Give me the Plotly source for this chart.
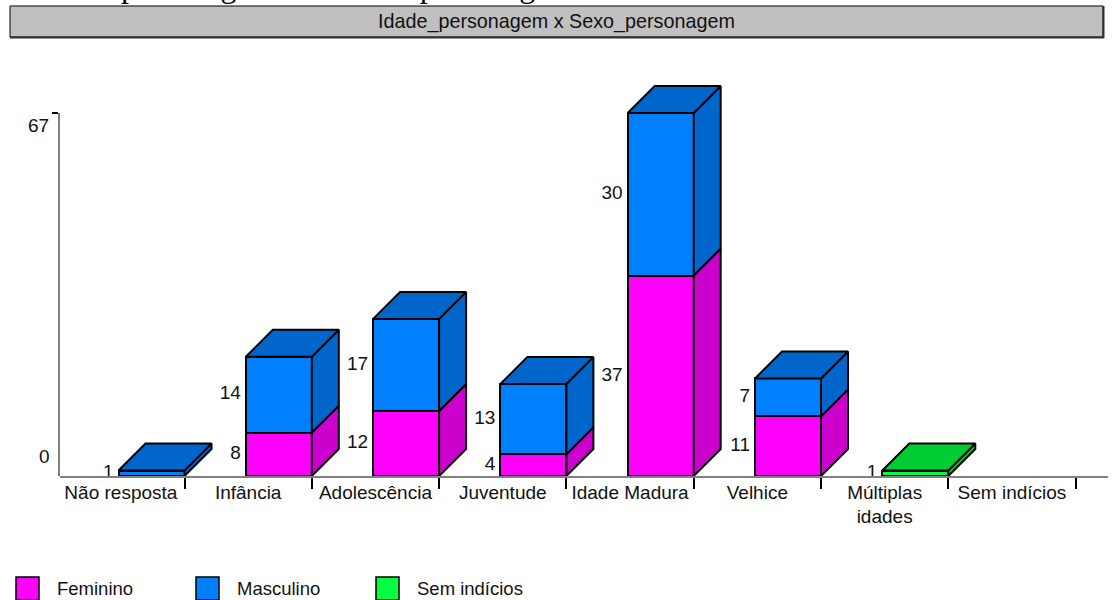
import plotly.graph_objects as go

categories = ["Não resposta", "Infância", "Adolescência", "Juventude", "Idade Madura",
              "Velhice", "Múltiplas<br>idades", "Sem indícios"]
series_names = ["Feminino", "Masculino", "Sem indícios"]
feminino = [0, 8, 12, 4, 37, 11, 0, 0]
masculino = [1, 14, 17, 13, 30, 7, 0, 0]
sem_indicios = [0, 0, 0, 0, 0, 0, 1, 0]
y_ticks = [0, 67]
chart_title = "Idade_personagem x Sexo_personagem"
cut_text = "Idade do personagem x Sexo do personagem"

front = ["#ff00ff", "#0080ff", "#00ff40"]
shade = ["#cc00cc", "#0066cc", "#00cc33"]
all_series = [feminino, masculino, sem_indicios]

W, H = 1112, 600
PX_PER_UNIT = 5.418
X0, X1, Y0 = 59.5, 1108.0, 476.0
PLOT_TOP = 80.0
SLOT = 127.3
BAR_W = 66 / SLOT
DX = 27 / SLOT
DY = 27 / PX_PER_UNIT
LABEL_GAP = 5 / SLOT
FONT = "Liberation Sans"
FS = 18
EDGE = dict(color="black", width=2)

xr0 = 0.5 - (184.5 - X0) / SLOT
xr1 = 0.5 + (X1 - 184.5) / SLOT

fig = go.Figure()

# front faces
for name, vals, col in zip(series_names, all_series, front):
    fig.add_trace(go.Bar(x=list(range(len(categories))), y=[v or None for v in vals], name=name,
                         width=BAR_W, offset=0.5 - BAR_W, marker=dict(color=col, line=EDGE),
                         showlegend=False, hoverinfo="skip"))

# side and top faces, label positions: derived from the stacked values
lab_x, lab_y, lab_t = [], [], []
side = [([], []) for _ in all_series]
top = [([], []) for _ in all_series]
for i in range(len(categories)):
    base = 0
    last = None
    for s, vals in enumerate(all_series):
        v = vals[i]
        if not v:
            continue
        xl, xr = i + 0.5 - BAR_W, i + 0.5
        side[s][0].extend([xr, xr + DX, xr + DX, xr, xr, None])
        side[s][1].extend([base, base + DY, base + v + DY, base + v, base, None])
        lab_x.append(xl - LABEL_GAP)
        lab_y.append(base + v / 2)
        lab_t.append(str(v))
        base += v
        last = s
    if last is not None:
        xl, xr = i + 0.5 - BAR_W, i + 0.5
        top[last][0].extend([xl, xl + DX, xr + DX, xr, xl, None])
        top[last][1].extend([base, base + DY, base + DY, base, base, None])

for s in range(len(all_series)):
    for poly in (side[s], top[s]):
        if poly[0]:
            fig.add_trace(go.Scatter(x=poly[0], y=poly[1], mode="lines", fill="toself",
                                     fillcolor=shade[s], line=EDGE, showlegend=False,
                                     hoverinfo="skip"))

fig.add_trace(go.Scatter(x=lab_x, y=lab_y, text=lab_t, mode="text", textposition="middle left",
                         textfont=dict(family=FONT, size=19, color="#111"), cliponaxis=False,
                         showlegend=False, hoverinfo="skip"))

# carrier for the visible value axis
fig.add_trace(go.Scatter(x=[0, 0], y=y_ticks, yaxis="y2", mode="lines",
                         line=dict(color="rgba(0,0,0,0)"), showlegend=False, hoverinfo="skip"))

shapes = [
    dict(type="rect", xref="paper", yref="paper", x0=10 / W, x1=1103 / W, y0=1 - 37 / H, y1=1 - 6 / H,
         fillcolor="#c0c0c0", line=dict(color="black", width=1)),
    dict(type="line", xref="paper", yref="paper", x0=10 / W, x1=1104 / W, y0=1 - 37.5 / H, y1=1 - 37.5 / H,
         line=dict(color="#303030", width=2)),
    dict(type="line", xref="paper", yref="paper", x0=1103.5 / W, x1=1103.5 / W, y0=1 - 6 / H, y1=1 - 38 / H,
         line=dict(color="#303030", width=2)),
]
annotations = [
    dict(text=chart_title, xref="paper", yref="paper", x=556.5 / W, y=1 - 21.5 / H, showarrow=False,
         font=dict(family=FONT, size=19.75, color="#111"), xanchor="center", yanchor="middle"),
    dict(text=cut_text, xref="paper", yref="paper", x=0, y=1, yshift=-6, showarrow=False,
         font=dict(family="Liberation Serif", size=32, color="black"), xanchor="left", yanchor="bottom"),
    dict(text=str(y_ticks[1]), xref="paper", yref="y2", x=51 / W, y=y_ticks[1], yshift=-13, showarrow=False,
         font=dict(family=FONT, size=19, color="#111"), xanchor="right", yanchor="middle"),
    dict(text=str(y_ticks[0]), xref="paper", yref="y2", x=52 / W, y=y_ticks[0], yshift=20, showarrow=False,
         font=dict(family=FONT, size=19, color="#111"), xanchor="right", yanchor="middle"),
]
for k, (name, col) in enumerate(zip(series_names, front)):
    x = 16 + 180 * k
    shapes.append(dict(type="rect", xref="paper", yref="paper", x0=x / W, x1=(x + 23) / W,
                       y0=1 - 600 / H, y1=1 - 577 / H, fillcolor=col, line=dict(color="black", width=1.5)))
    annotations.append(dict(text=name, xref="paper", yref="paper", x=(x + 39) / W, y=1 - 588 / H,
                            showarrow=False, xanchor="left", yanchor="middle",
                            font=dict(family=FONT, size=18.5, color="#111")))

fig.update_layout(
    width=W, height=H, margin=dict(l=0, r=0, t=0, b=0), autosize=False,
    paper_bgcolor="white", plot_bgcolor="rgba(0,0,0,0)", barmode="stack", showlegend=False,
    font=dict(family=FONT, size=FS, color="#111"),
    xaxis=dict(domain=[X0 / W, X1 / W], range=[xr0, xr1], anchor="y", showgrid=False, zeroline=False,
               showline=True, linecolor="#808080", linewidth=1.5,
               tickmode="array", tickvals=list(range(len(categories))), ticktext=categories,
               ticks="", ticklen=0, tickangle=0, ticklabelstandoff=-2,
               tickfont=dict(family=FONT, size=19, color="#111"),
               minor=dict(tickmode="array", tickvals=[i + 0.5 for i in range(len(categories))],
                          ticks="outside", ticklen=11, tickwidth=2, tickcolor="black", showgrid=False)),
    yaxis=dict(domain=[1 - Y0 / H, 1 - PLOT_TOP / H], range=[0, (Y0 - PLOT_TOP) / PX_PER_UNIT], visible=False,
               fixedrange=True),
    yaxis2=dict(domain=[1 - Y0 / H, 1 - (Y0 - y_ticks[1] * PX_PER_UNIT) / H], range=[y_ticks[0], y_ticks[1]],
                anchor="x", showgrid=False, zeroline=False, showline=True, linecolor="#808080", linewidth=1.5,
                tickmode="array", tickvals=[y_ticks[1]], ticktext=[""], ticks="outside", ticklen=6,
                tickwidth=1.5, tickcolor="black"),
    shapes=shapes, annotations=annotations,
)

fig.write_html("out.html", post_script="document.body.style.margin='0';",
               config={"displayModeBar": False})
